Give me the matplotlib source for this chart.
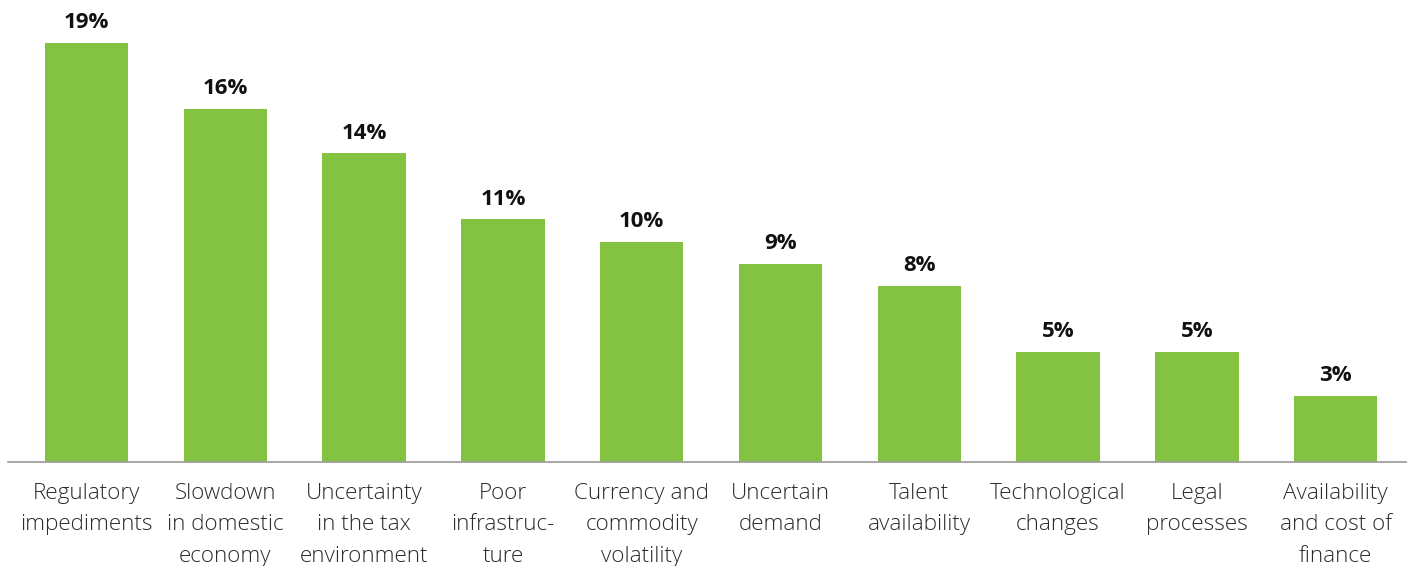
import matplotlib
matplotlib.use("Agg")
import matplotlib.pyplot as plt

plt.rcParams["font.family"] = ["Open Sans", "DejaVu Sans"]

categories = [
    "Regulatory\nimpediments",
    "Slowdown\nin domestic\neconomy",
    "Uncertainty\nin the tax\nenvironment",
    "Poor\ninfrastruc-\nture",
    "Currency and\ncommodity\nvolatility",
    "Uncertain\ndemand",
    "Talent\navailability",
    "Technological\nchanges",
    "Legal\nprocesses",
    "Availability\nand cost of\nfinance",
]
shares = [19, 16, 14, 11, 10, 9, 8, 5, 5, 3]

BAR_COLOR = "#83C341"
AXIS_COLOR = "#9a9a9a"

fig = plt.figure(figsize=(14.07, 5.66), dpi=100)
ax = fig.add_axes([8 / 1407, 104 / 566, 1 - 8 / 1407, (462 - 21) / 566])

x = list(range(len(categories)))
bars = ax.bar(x, shares, width=0.6, color=BAR_COLOR, zorder=2)

for rect, val in zip(bars, shares):
    ax.annotate(
        f"{val}%",
        xy=(rect.get_x() + rect.get_width() / 2, rect.get_height()),
        xytext=(0, 7),
        textcoords="offset points",
        ha="center",
        va="bottom",
        fontsize=16,
        fontweight="bold",
        color="#111111",
    )

ax.set_xlim(-0.566, 9.514)
ax.set_ylim(0, 20)

ax.set_xticks(x)
ax.set_xticklabels(categories, fontsize=16.2, fontweight="light",
                   color="#2b2b2b", linespacing=1.66)
ax.tick_params(axis="x", length=0, pad=15)
ax.set_yticks([])

for side in ["top", "right", "left"]:
    ax.spines[side].set_visible(False)
ax.spines["bottom"].set_color(AXIS_COLOR)
ax.spines["bottom"].set_linewidth(1.2)
ax.spines["bottom"].set_zorder(3)

fig.savefig("out.png", dpi=100)
